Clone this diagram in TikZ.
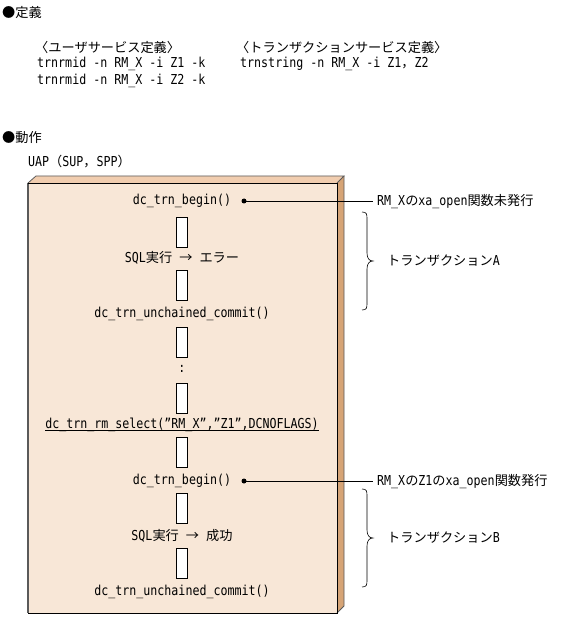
\documentclass[tikz,border=0pt]{standalone}
\usepackage{fontspec}
\setmainfont{DejaVu Sans Mono}[FakeStretch=0.85]
\newfontfamily\jpf{Noto Sans CJK JP}
\newcommand{\jp}[1]{{\jpf\fontsize{13.2}{14}\selectfont #1}}
\newcommand{\mainsz}{\fontsize{13.7}{14}\selectfont}
\definecolor{frontc}{HTML}{F8E7D7}
\definecolor{topc}{HTML}{F1CDAF}
\definecolor{sidec}{HTML}{D6A476}
\definecolor{edgec}{HTML}{5A5A5A}
\begin{document}
\begin{tikzpicture}[x=1pt,y=-1pt,
  every node/.style={inner sep=0pt, font=\mainsz},
  lbl/.style={anchor=west},
  bar/.style={draw=black, fill=white, line width=0.8pt, minimum width=11pt, minimum height=30pt},
  dotst/.style={circle, fill=black, minimum size=5pt, inner sep=0pt},
  conn/.style={draw=black, line width=0.6pt},
  brc/.style={draw=black, line width=0.6pt}
]
\useasboundingbox (0,0) rectangle (561,617);
% headings
\node[lbl] (h1) at (2,13) {\jp{●定義}};
\node[lbl] (u1) at (35,47) {\jp{〈ユーザサービス定義〉}};
\node[lbl] (t1) at (236,47) {\jp{〈トランザクションサービス定義〉}};
\node[lbl] (u2) at (37,64) {trnrmid -n RM\_X -i Z1 -k};
\node[lbl] (u3) at (37,81) {trnrmid -n RM\_X -i Z2 -k};
\node[lbl] (t2) at (240,64) {trnstring -n RM\_X -i Z1\jp{，}Z2};
\node[lbl] (h2) at (2,138) {\jp{●動作}};
\node[lbl] (uap) at (28,162) {UAP\jp{（}SUP\jp{，}SPP\jp{）}};
% box
\fill[topc] (28,183) -- (36,176) -- (344,176) -- (337,183) -- cycle;
\fill[sidec] (337,183) -- (344,176) -- (344,606) -- (337,613) -- cycle;
\fill[frontc] (28,183) rectangle (337,613);
\draw[edgec, line width=0.8pt] (28,183) -- (36,176) -- (344,176) -- (337,183);
\draw[edgec, line width=0.8pt] (344,176) -- (344,606) -- (337,613);
\draw[edgec, line width=1.6pt] (28,183) -- (28,613);
\draw[black, line width=0.9pt] (28,183) -- (337,183) -- (337,613) -- (28,613);
% flow
\node (a1) at (182,201) {dc\_trn\_begin()};
\node[bar] (b1) at (182,232) {};
\node (a2) at (182,258) {SQL\jp{実行}\ \jp{→}\ \jp{エラー}};
\node[bar] (b2) at (182,285) {};
\node (a3) at (182,314) {dc\_trn\_unchained\_commit()};
\node[bar] (b3) at (182,342) {};
\node (a4) at (182,369) {:};
\node[bar] (b4) at (182,398) {};
\node (a5) at (182,425) {dc\_trn\_rm\_select("RM\_X","Z1",DCNOFLAGS)};
\draw[black, line width=0.6pt] ([yshift=-1.8pt]a5.base west) -- ([yshift=-1.8pt]a5.base east);
\node[bar] (b5) at (182,452) {};
\node (a6) at (182,481) {dc\_trn\_begin()};
\node[bar] (b6) at (182,508) {};
\node (a7) at (182,536) {SQL\jp{実行}\ \jp{→}\ \jp{成功}};
\node[bar] (b7) at (182,563) {};
\node (a8) at (182,592) {dc\_trn\_unchained\_commit()};
% dots and labels
\node[dotst] (d1) at (244,201) {};
\coordinate (e1) at (373,201);
\draw[conn] (d1.center) -- (e1);
\node[lbl] (l1) at (377,202) {RM\_X\jp{の}xa\_open\jp{関数未発行}};
\node[dotst] (d2) at (244,481) {};
\coordinate (e2) at (373,481);
\draw[conn] (d2.center) -- (e2);
\node[lbl] (l2) at (377,482) {RM\_X\jp{の}Z1\jp{の}xa\_open\jp{関数発行}};
% braces
\draw[brc] (362,212) .. controls (367,212) and (367,214) .. (367,220) -- (367,253)
  .. controls (367,258) and (369,261) .. (373,261)
  .. controls (369,261) and (367,264) .. (367,269) -- (367,302)
  .. controls (367,308) and (367,310) .. (362,310);
\node[lbl] (ta) at (387,261) {\jp{トランザクション}A};
\draw[brc] (362,489) .. controls (367,489) and (367,491) .. (367,497) -- (367,530)
  .. controls (367,535) and (369,538) .. (373,538)
  .. controls (369,538) and (367,541) .. (367,546) -- (367,579)
  .. controls (367,585) and (367,587) .. (362,587);
\node[lbl] (tb) at (387,538) {\jp{トランザクション}B};
\end{tikzpicture}
\end{document}
